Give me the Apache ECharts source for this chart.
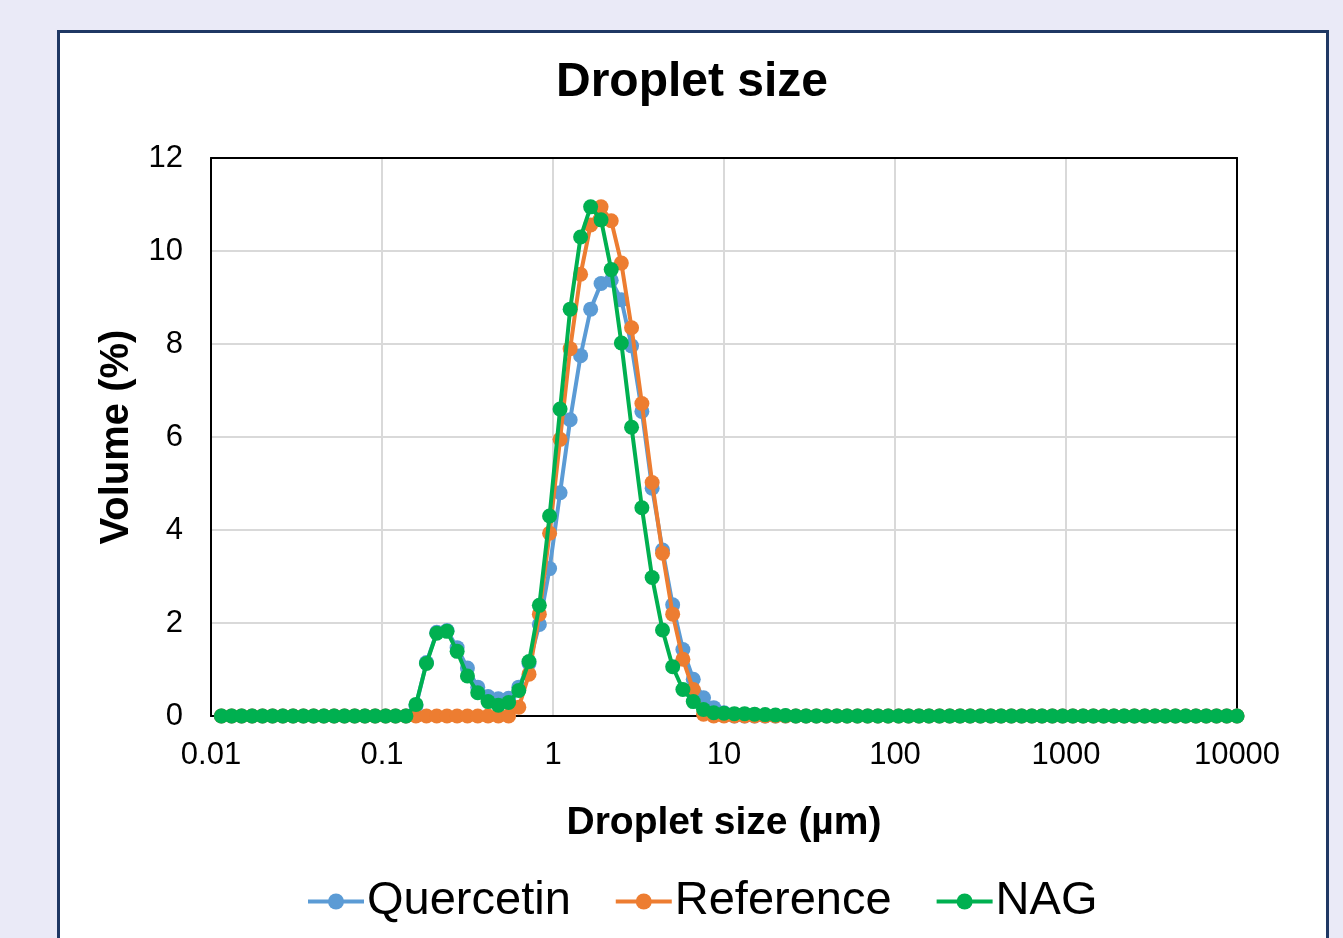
<!DOCTYPE html>
<html>
<head>
<meta charset="utf-8">
<title>Droplet size</title>
<script src="https://cdn.jsdelivr.net/npm/echarts@6/dist/echarts.min.js"></script>
<style>
  html, body { margin: 0; padding: 0; background: #eaeaf7; overflow: hidden; }
  #frame {
    position: absolute; left: 57px; top: 30px; width: 1266px; height: 940px;
    background: #fff; border: 3px solid #1f3864;
  }
  #chart { position: absolute; left: 0; top: 0; width: 1343px; height: 938px; }
</style>
</head>
<body>
<div id="frame"></div>
<div id="chart"></div>
<script>
  // size classes (µm), log spaced
  var sizes = [
    0.0115, 0.0132, 0.0151, 0.0174, 0.0200, 0.0229, 0.0263, 0.0302, 0.0347, 0.0398,
    0.0457, 0.0525, 0.0603, 0.0692, 0.0794, 0.0912, 0.105, 0.120, 0.138, 0.158,
    0.182, 0.209, 0.240, 0.275, 0.316, 0.363, 0.417, 0.479, 0.550, 0.631,
    0.724, 0.832, 0.955, 1.10, 1.26, 1.45, 1.66, 1.91, 2.19, 2.51,
    2.88, 3.31, 3.80, 4.37, 5.01, 5.75, 6.61, 7.59, 8.71, 10.0,
    11.5, 13.2, 15.1, 17.4, 20.0, 22.9, 26.3, 30.2, 34.7, 39.8,
    45.7, 52.5, 60.3, 69.2, 79.4, 91.2, 105, 120, 138, 158,
    182, 209, 240, 275, 316, 363, 417, 479, 550, 631,
    724, 832, 955, 1096, 1259, 1445, 1660, 1905, 2188, 2512,
    2884, 3311, 3802, 4365, 5012, 5754, 6607, 7586, 8710, 10000
  ];

  var quercetin = [
    0, 0, 0, 0, 0, 0, 0, 0, 0, 0,
    0, 0, 0, 0, 0, 0, 0, 0, 0, 0.22,
    1.15, 1.80, 1.84, 1.47, 1.03, 0.62, 0.42, 0.37, 0.38, 0.62,
    1.13, 1.97, 3.17, 4.80, 6.37, 7.75, 8.75, 9.30, 9.37, 8.95,
    7.96, 6.55, 4.90, 3.57, 2.39, 1.43, 0.79, 0.39, 0.18, 0.07,
    0, 0, 0, 0, 0, 0, 0, 0, 0, 0,
    0, 0, 0, 0, 0, 0, 0, 0, 0, 0,
    0, 0, 0, 0, 0, 0, 0, 0, 0, 0,
    0, 0, 0, 0, 0, 0, 0, 0, 0, 0,
    0, 0, 0, 0, 0, 0, 0, 0, 0, 0
  ];

  var reference = [
    0, 0, 0, 0, 0, 0, 0, 0, 0, 0,
    0, 0, 0, 0, 0, 0, 0, 0, 0, 0,
    0, 0, 0, 0, 0, 0, 0, 0, 0, 0.19,
    0.90, 2.19, 3.93, 5.95, 7.90, 9.50, 10.56, 10.95, 10.65, 9.74,
    8.35, 6.72, 5.02, 3.50, 2.19, 1.22, 0.57, 0.04, 0, 0,
    0, 0, 0, 0, 0, 0, 0, 0, 0, 0,
    0, 0, 0, 0, 0, 0, 0, 0, 0, 0,
    0, 0, 0, 0, 0, 0, 0, 0, 0, 0,
    0, 0, 0, 0, 0, 0, 0, 0, 0, 0,
    0, 0, 0, 0, 0, 0, 0, 0, 0, 0
  ];

  var nag = [
    0, 0, 0, 0, 0, 0, 0, 0, 0, 0,
    0, 0, 0, 0, 0, 0, 0, 0, 0, 0.25,
    1.13, 1.78, 1.82, 1.39, 0.86, 0.50, 0.31, 0.23, 0.29, 0.55,
    1.17, 2.38, 4.30, 6.60, 8.75, 10.30, 10.95, 10.67, 9.60, 8.02,
    6.21, 4.48, 2.98, 1.85, 1.06, 0.57, 0.31, 0.14, 0.07, 0.06,
    0.05, 0.05, 0.04, 0.03, 0.02, 0.01, 0, 0, 0, 0,
    0, 0, 0, 0, 0, 0, 0, 0, 0, 0,
    0, 0, 0, 0, 0, 0, 0, 0, 0, 0,
    0, 0, 0, 0, 0, 0, 0, 0, 0, 0,
    0, 0, 0, 0, 0, 0, 0, 0, 0, 0
  ];

  var seriesNames = ['Quercetin', 'Reference', 'NAG'];
  var seriesColors = ['#5b9bd5', '#ed7d31', '#00b050'];
  var seriesValues = [quercetin, reference, nag];

  var font = '"Liberation Sans", Arial, sans-serif';
  var blackLine = { show: true, onZero: false, lineStyle: { color: '#000', width: 2 } };

  function pairs(values) {
    return sizes.map(function (s, i) { return [s, values[i]]; });
  }

  var series = seriesNames.map(function (name, k) {
    return {
      name: name,
      type: 'line',
      data: pairs(seriesValues[k]),
      symbol: 'circle',
      symbolSize: 15,
      showAllSymbol: true,
      color: seriesColors[k],
      lineStyle: { width: 4, color: seriesColors[k] },
      itemStyle: { color: seriesColors[k] },
      emphasis: { disabled: true },
      z: 3 + k
    };
  });

  var myChart = echarts.init(document.getElementById('chart'));
  var option = {
    animation: false,
    title: {
      text: 'Droplet size',
      left: 692,
      textAlign: 'center',
      top: 59,
      padding: 0,
      textStyle: { fontFamily: font, fontSize: 48, fontWeight: 'bold', color: '#000' }
    },
    legend: {
      left: 306,
      top: 878,
      padding: 0,
      itemWidth: 56,
      itemHeight: 20,
      itemGap: 43,
      lineStyle: { width: 4 },
      textStyle: { fontFamily: font, fontSize: 47, color: '#000', padding: [4, 0, 0, -2] },
      data: seriesNames
    },
    grid: {
      left: 211,
      top: 158,
      right: 106,
      bottom: 222,
      containLabel: false
    },
    xAxis: [{
      type: 'log',
      logBase: 10,
      min: 0.01,
      max: 10000,
      name: 'Droplet size (\u00b5m)',
      nameLocation: 'middle',
      nameGap: 88,
      nameTextStyle: { fontFamily: font, fontSize: 39, fontWeight: 'bold', color: '#000' },
      axisLine: blackLine,
      axisTick: { show: false },
      minorTick: { show: false },
      axisLabel: {
        fontFamily: font, fontSize: 31, color: '#000', margin: 24,
        formatter: function (v) { return String(parseFloat(v.toPrecision(6))); }
      },
      splitLine: { show: true, lineStyle: { color: '#d9d9d9', width: 2 } }
    }, {
      type: 'log',
      logBase: 10,
      min: 0.01,
      max: 10000,
      position: 'top',
      axisLine: blackLine,
      axisTick: { show: false },
      axisLabel: { show: false },
      splitLine: { show: false }
    }],
    yAxis: [{
      type: 'value',
      min: 0,
      max: 12,
      interval: 2,
      name: 'Volume (%)',
      nameLocation: 'middle',
      nameGap: 74,
      nameTextStyle: { fontFamily: font, fontSize: 40, fontWeight: 'bold', color: '#000' },
      axisLine: blackLine,
      axisTick: { show: false },
      axisLabel: { fontFamily: font, fontSize: 31, color: '#000', margin: 28 },
      splitLine: { show: true, lineStyle: { color: '#d9d9d9', width: 2 } }
    }, {
      type: 'value',
      min: 0,
      max: 12,
      interval: 2,
      position: 'right',
      axisLine: blackLine,
      axisTick: { show: false },
      axisLabel: { show: false },
      splitLine: { show: false }
    }],
    series: series
  };
  myChart.setOption(option);
</script>
</body>
</html>
